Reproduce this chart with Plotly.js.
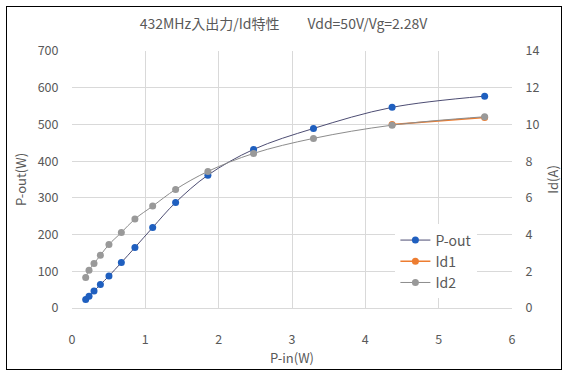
<!DOCTYPE html>
<html><head><meta charset="utf-8">
<script src="https://cdn.plot.ly/plotly-3.0.1.min.js"></script>
<style>body{margin:0;background:#fff}#wrap{position:relative;width:567px;height:375px}#frame{position:absolute;left:6px;top:6px;width:554px;height:362px;border:1px solid #000;pointer-events:none}</style>
</head><body><div id="wrap"><div id="chart" style="width:567px;height:375px"></div><div id="frame"></div></div>
<script>
const pin = [0.187, 0.232, 0.30, 0.387, 0.504, 0.673, 0.858, 1.10, 1.413, 1.853, 2.476, 3.293, 4.365, 5.627];
const pout = [22.9, 31.9, 46.4, 63.8, 87.3, 123.8, 164.7, 219.3, 287.4, 361.9, 432, 489, 546.5, 577];
const id2 = [1.66, 2.06, 2.42, 2.87, 3.46, 4.11, 4.85, 5.55, 6.46, 7.44, 8.42, 9.24, 9.96, 10.42];
const pinId1 = [4.365, 5.627];
const id1 = [9.99, 10.38];

const font = "'Noto Sans CJK JP', 'Noto Sans', sans-serif";
const traces = [
  {x: pin, y: pout, name: 'P-out', mode: 'lines+markers', line: {color: '#4d4d73', width: 1, shape: 'spline'}, marker: {color: '#1f5fbf', size: 7}},
  {x: pinId1, y: id1, name: 'Id1', yaxis: 'y2', mode: 'lines+markers', line: {color: '#ed7d31', width: 1.5, shape: 'spline'}, marker: {color: '#ed7d31', size: 7}},
  {x: pin, y: id2, name: 'Id2', yaxis: 'y2', mode: 'lines+markers', line: {color: '#8c8c8c', width: 1, shape: 'spline'}, marker: {color: '#999999', size: 7}}
];
const layout = {
  width: 567, height: 375,
  margin: {l: 72, r: 55, t: 51, b: 67},
  paper_bgcolor: '#fff', plot_bgcolor: '#fff',
  font: {family: font, color: '#595959', size: 12.5},
  title: {text: '432MHz入出力/Id特性\u3000\u3000Vdd=50V/Vg=2.28V', font: {size: 14, color: '#595959'}, x: 0.5, xanchor: 'center', y: 0.935, yanchor: 'middle'},
  showlegend: true,
  legend: {x: 0.735, y: 0.325, xanchor: 'left', yanchor: 'top', bgcolor: 'rgba(255,255,255,1)', font: {size: 14, color: '#595959'}, tracegroupgap: 0, itemwidth: 30},
  xaxis: {range: [0, 6], dtick: 1, showgrid: true, gridcolor: '#d9d9d9', zeroline: false, showline: true, linecolor: '#d9d9d9',
    ticks: 'outside', ticklen: 20, tickcolor: 'rgba(0,0,0,0)', fixedrange: true,
    title: {text: 'P-in(W)', font: {size: 13, color: '#595959'}, standoff: 2}},
  yaxis: {range: [0, 700], dtick: 100, showgrid: true, gridcolor: '#d9d9d9', zeroline: false, showline: false,
    ticks: 'outside', ticklen: 10, tickcolor: 'rgba(0,0,0,0)',
    title: {text: 'P-out(W)', font: {size: 13, color: '#595959'}, standoff: 8}},
  yaxis2: {range: [0, 14], dtick: 2, overlaying: 'y', side: 'right', showgrid: false, zeroline: false, showline: false,
    ticks: 'outside', ticklen: 10, tickcolor: 'rgba(0,0,0,0)',
    title: {text: 'Id(A)', font: {size: 13, color: '#595959'}, standoff: 10}}
};
Plotly.newPlot('chart', traces, layout, {displayModeBar: false, staticPlot: true});
</script></body></html>
